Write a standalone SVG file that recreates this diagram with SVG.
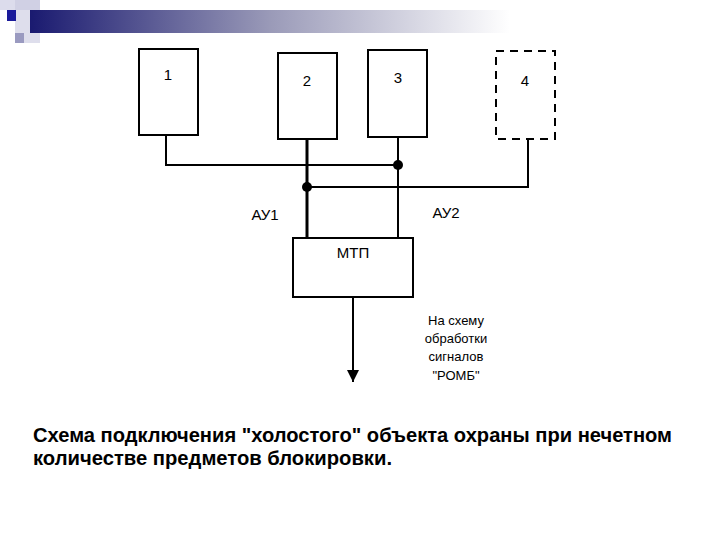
<svg xmlns="http://www.w3.org/2000/svg" width="720" height="540" viewBox="0 0 720 540">
<defs>
<linearGradient id="g" x1="0" x2="1" y1="0" y2="0"><stop offset="0" stop-color="#1a1a70"/><stop offset="0.5" stop-color="#9a9ab8"/><stop offset="1" stop-color="#ffffff"/></linearGradient>
<marker id="ar" viewBox="0 0 10 10" refX="10" refY="5" markerWidth="6" markerHeight="6" orient="auto"><path d="M0,0L10,5L0,10z" fill="#000"/></marker>
</defs>
<style>
.b{fill:#fff;stroke:#000;stroke-width:2}
.t{font-family:"Liberation Sans",Arial,sans-serif;font-size:15px;text-anchor:middle}
.s{font-family:"Liberation Sans",Arial,sans-serif;font-size:13px;text-anchor:middle}
.c{font-family:"Liberation Sans",Arial,sans-serif;font-size:20px;font-weight:bold}
.w{fill:none;stroke:#000;stroke-width:2}
.k{fill:none;stroke:#000;stroke-width:3}
</style>
<rect width="720" height="540" fill="#fff"/>
<g id="header">
<rect x="0" y="0" width="40" height="10" fill="#dcdcec"/>
<rect x="15" y="0" width="25" height="43" fill="#c8c8e0" opacity="0.6"/>
<rect x="30" y="10" width="480" height="23" fill="url(#g)"/>
<rect x="7" y="10" width="9" height="11" fill="#1a1a9a"/>
<rect x="15" y="33" width="9" height="10" fill="#9a9ac0"/>
</g>
<g id="n1"><rect class="b" x="139" y="49" width="59" height="86"/><text class="t" x="168" y="80">1</text></g>
<g id="n2"><rect class="b" x="278" y="53" width="59" height="86"/><text class="t" x="307" y="86">2</text></g>
<g id="n3"><rect class="b" x="368" y="50" width="59" height="87"/><text class="t" x="398" y="83">3</text></g>
<g id="n4"><rect class="b" x="496" y="51" width="59" height="88" stroke-dasharray="8,6"/><text class="t" x="525" y="86">4</text></g>
<g id="mtp"><rect class="b" x="293" y="238" width="120" height="59"/><text class="t" x="353" y="258">МТП</text></g>
<g id="connectors">
<polyline class="w" points="166,135 166,165 398,165"/>
<line class="k" x1="307" y1="139" x2="307" y2="238"/>
<line class="w" x1="398" y1="137" x2="398" y2="238"/>
<polyline class="w" points="307,187 528,187 528,139"/>
<circle cx="398" cy="165" r="5"/>
<circle cx="307" cy="187" r="5"/>
<line class="w" x1="353" y1="297" x2="353" y2="382" marker-end="url(#ar)"/>
</g>
<g id="labels">
<text class="t" x="265" y="220">АУ1</text>
<text class="t" x="446" y="218">АУ2</text>
<text class="s" x="456" y="325">На схему</text>
<text class="s" x="456" y="343">обработки</text>
<text class="s" x="456" y="361">сигналов</text>
<text class="s" x="456" y="380">"РОМБ"</text>
<text class="c" x="33" y="442" textLength="639" lengthAdjust="spacingAndGlyphs">Схема подключения "холостого" объекта охраны при нечетном</text>
<text class="c" x="33" y="465" textLength="359" lengthAdjust="spacingAndGlyphs">количестве предметов блокировки.</text>
</g>
</svg>
